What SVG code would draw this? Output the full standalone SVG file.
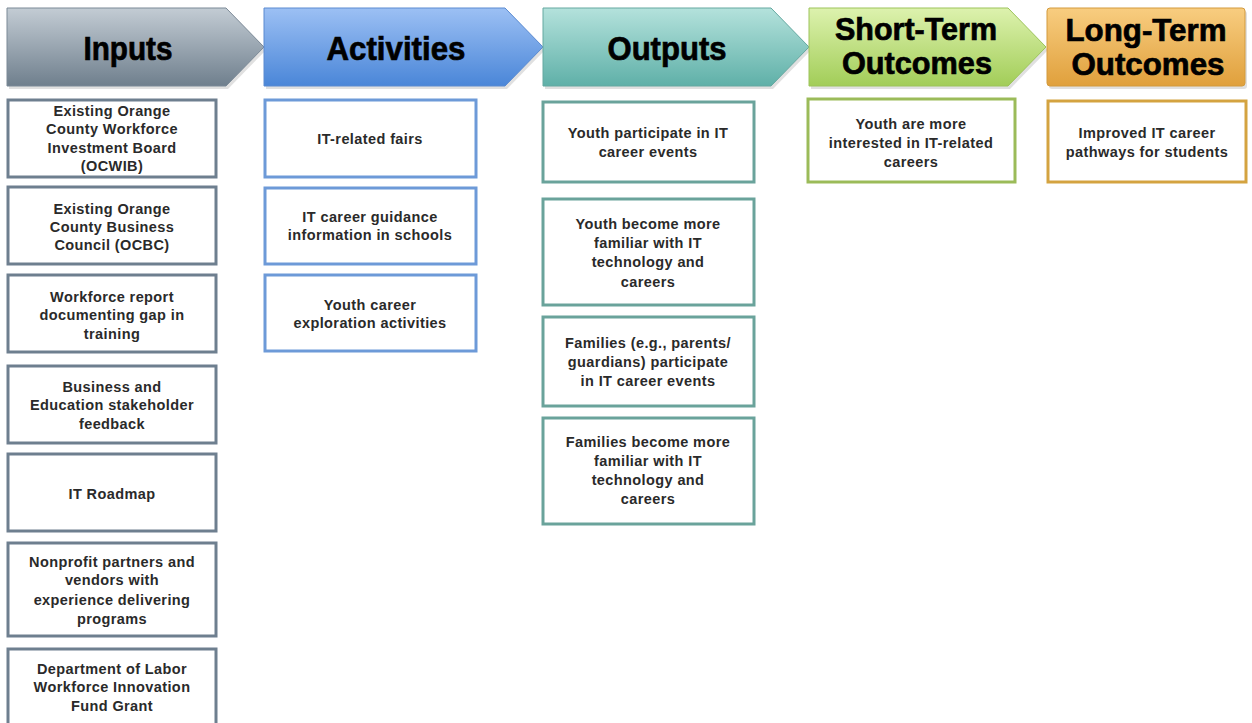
<svg xmlns="http://www.w3.org/2000/svg" width="1252" height="723" viewBox="0 0 1252 723">
<defs>
<linearGradient id="gIn" x1="0" y1="0" x2="0" y2="1"><stop offset="0" stop-color="#c3ccd4"/><stop offset="1" stop-color="#6f7f8d"/></linearGradient>
<linearGradient id="gAc" x1="0" y1="0" x2="0" y2="1"><stop offset="0" stop-color="#9cc0f4"/><stop offset="1" stop-color="#4a86d8"/></linearGradient>
<linearGradient id="gOu" x1="0" y1="0" x2="0" y2="1"><stop offset="0" stop-color="#b4e2dc"/><stop offset="1" stop-color="#5fb0a8"/></linearGradient>
<linearGradient id="gSt" x1="0" y1="0" x2="0" y2="1"><stop offset="0" stop-color="#ddf2ae"/><stop offset="1" stop-color="#a2cd58"/></linearGradient>
<linearGradient id="gLt" x1="0" y1="0" x2="0" y2="1"><stop offset="0" stop-color="#f8cd80"/><stop offset="1" stop-color="#e0a03c"/></linearGradient>
</defs>
<style>
.hd{font-family:"Liberation Sans",Arial,sans-serif;font-weight:bold;font-size:34px;fill:#000;stroke:#000;stroke-width:0.7;text-anchor:middle}
.h2{font-size:31px}
.tx{font-family:"Liberation Sans",Arial,sans-serif;font-weight:bold;font-size:14.5px;fill:#2a2a2a;text-anchor:middle;letter-spacing:0.4px}
.box{fill:#fff;stroke-width:3}
.bin{stroke:#6e7f8f}
.bac{stroke:#6d9ad8}
.bou{stroke:#6aa39b}
.bst{stroke:#9bbb59}
.blt{stroke:#d4a340}
.shd{fill:#000;opacity:0.12}
</style>
<rect width="1252" height="723" fill="#fff"/>
<g id="headers">
<g id="h-inputs">
<path class="shd" d="M9,11 H228 L266,50 L228,89 H9 Z"/>
<path d="M7,8 H226 L264,47 L226,86 H7 Z" fill="url(#gIn)" stroke="#7b8996" stroke-width="1"/>
<text class="hd" x="128" y="60" textLength="89" lengthAdjust="spacingAndGlyphs">Inputs</text>
</g>
<g id="h-activities">
<path class="shd" d="M266,11 H507 L545,50 L507,89 H266 Z"/>
<path d="M264,8 H505 L543,47 L505,86 H264 Z" fill="url(#gAc)" stroke="#5a8ad0" stroke-width="1"/>
<text class="hd" x="396" y="60" textLength="139" lengthAdjust="spacingAndGlyphs">Activities</text>
</g>
<g id="h-outputs">
<path class="shd" d="M545,11 H773 L811,50 L773,89 H545 Z"/>
<path d="M543,8 H771 L809,47 L771,86 H543 Z" fill="url(#gOu)" stroke="#64a8a0" stroke-width="1"/>
<text class="hd" x="667" y="60" textLength="119" lengthAdjust="spacingAndGlyphs">Outputs</text>
</g>
<g id="h-short">
<path class="shd" d="M811,11 H1010 L1048,50 L1010,89 H811 Z"/>
<path d="M809,8 H1008 L1046,47 L1008,86 H809 Z" fill="url(#gSt)" stroke="#9cc35a" stroke-width="1"/>
<text class="hd h2" x="916" y="40" textLength="162" lengthAdjust="spacingAndGlyphs">Short-Term</text>
<text class="hd h2" x="917" y="74" textLength="150" lengthAdjust="spacingAndGlyphs">Outcomes</text>
</g>
<g id="h-long">
<rect class="shd" x="1049" y="11" width="198" height="78" rx="3"/>
<rect x="1047" y="8" width="198" height="78" rx="3" fill="url(#gLt)" stroke="#d39a3c" stroke-width="1"/>
<text class="hd h2" x="1146" y="41" textLength="161" lengthAdjust="spacingAndGlyphs">Long-Term</text>
<text class="hd h2" x="1148" y="75" textLength="153" lengthAdjust="spacingAndGlyphs">Outcomes</text>
</g>
</g>
<g id="connectors"/>
<g id="in1"><rect class="box bin" x="8" y="100" width="208" height="77"/>
<text class="tx" x="112" y="116">Existing Orange</text><text class="tx" x="112" y="134">County Workforce</text><text class="tx" x="112" y="153">Investment Board</text><text class="tx" x="112" y="171">(OCWIB)</text></g>
<g id="in2"><rect class="box bin" x="8" y="187" width="208" height="77"/>
<text class="tx" x="112" y="214">Existing Orange</text><text class="tx" x="112" y="232">County Business</text><text class="tx" x="112" y="250">Council (OCBC)</text></g>
<g id="in3"><rect class="box bin" x="8" y="275" width="208" height="77"/>
<text class="tx" x="112" y="302">Workforce report</text><text class="tx" x="112" y="320">documenting gap in</text><text class="tx" x="112" y="339">training</text></g>
<g id="in4"><rect class="box bin" x="8" y="366" width="208" height="77"/>
<text class="tx" x="112" y="392">Business and</text><text class="tx" x="112" y="410">Education stakeholder</text><text class="tx" x="112" y="429">feedback</text></g>
<g id="in5"><rect class="box bin" x="8" y="454" width="208" height="77"/>
<text class="tx" x="112" y="499">IT Roadmap</text></g>
<g id="in6"><rect class="box bin" x="8" y="543" width="208" height="93"/>
<text class="tx" x="112" y="567">Nonprofit partners and</text><text class="tx" x="112" y="585">vendors with</text><text class="tx" x="112" y="605">experience delivering</text><text class="tx" x="112" y="624">programs</text></g>
<g id="in7"><rect class="box bin" x="8" y="649" width="208" height="90"/>
<text class="tx" x="112" y="674">Department of Labor</text><text class="tx" x="112" y="692">Workforce Innovation</text><text class="tx" x="112" y="711">Fund Grant</text></g>
<g id="ac1"><rect class="box bac" x="265" y="100" width="211" height="77"/>
<text class="tx" x="370" y="144">IT-related fairs</text></g>
<g id="ac2"><rect class="box bac" x="265" y="188" width="211" height="76"/>
<text class="tx" x="370" y="222">IT career guidance</text><text class="tx" x="370" y="240">information in schools</text></g>
<g id="ac3"><rect class="box bac" x="265" y="275" width="211" height="76"/>
<text class="tx" x="370" y="310">Youth career</text><text class="tx" x="370" y="328">exploration activities</text></g>
<g id="ou1"><rect class="box bou" x="543" y="102" width="211" height="80"/>
<text class="tx" x="648" y="138">Youth participate in IT</text><text class="tx" x="648" y="157">career events</text></g>
<g id="ou2"><rect class="box bou" x="543" y="199" width="211" height="106"/>
<text class="tx" x="648" y="229">Youth become more</text><text class="tx" x="648" y="248">familiar with IT</text><text class="tx" x="648" y="267">technology and</text><text class="tx" x="648" y="287">careers</text></g>
<g id="ou3"><rect class="box bou" x="543" y="317" width="211" height="89"/>
<text class="tx" x="648" y="348">Families (e.g., parents/</text><text class="tx" x="648" y="367">guardians) participate</text><text class="tx" x="648" y="386">in IT career events</text></g>
<g id="ou4"><rect class="box bou" x="543" y="418" width="211" height="106"/>
<text class="tx" x="648" y="447">Families become more</text><text class="tx" x="648" y="466">familiar with IT</text><text class="tx" x="648" y="485">technology and</text><text class="tx" x="648" y="504">careers</text></g>
<g id="st1"><rect class="box bst" x="808" y="99" width="207" height="83"/>
<text class="tx" x="911" y="129">Youth are more</text><text class="tx" x="911" y="148">interested in IT-related</text><text class="tx" x="911" y="167">careers</text></g>
<g id="lt1"><rect class="box blt" x="1048" y="101" width="198" height="81"/>
<text class="tx" x="1147" y="138">Improved IT career</text><text class="tx" x="1147" y="157">pathways for students</text></g>
</svg>
